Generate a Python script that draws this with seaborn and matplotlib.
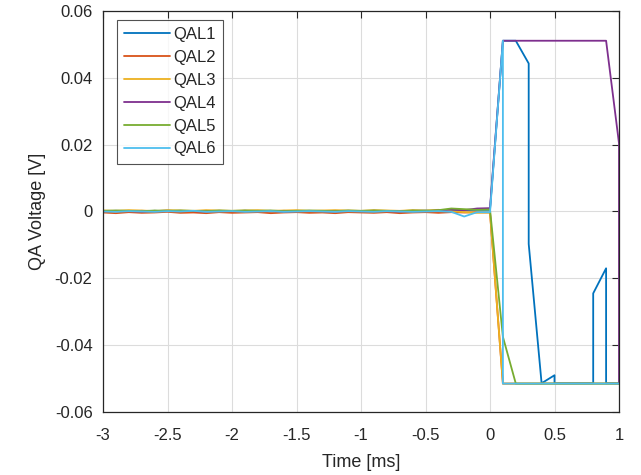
import numpy as np
import pandas as pd
import matplotlib
matplotlib.use("Agg")
import matplotlib.pyplot as plt
import seaborn as sns

series_names = ["QAL1", "QAL2", "QAL3", "QAL4", "QAL5", "QAL6"]
colors = ["#0072BD", "#D95319", "#EDB120", "#7E2F8E", "#77AC30", "#4DBEEE"]

# baseline time samples, -3.0 .. 0.0 ms
t_base = [-3.0, -2.9, -2.8, -2.7, -2.6, -2.5, -2.4, -2.3, -2.2, -2.1,
          -2.0, -1.9, -1.8, -1.7, -1.6, -1.5, -1.4, -1.3, -1.2, -1.1,
          -1.0, -0.9, -0.8, -0.7, -0.6, -0.5, -0.4, -0.3, -0.2, -0.1, 0.0]

qal1_base = [0.0002, 0.0001, 0.0000, 0.0002, 0.0001, 0.0003, 0.0000, 0.0001, 0.0002, 0.0000,
             0.0001, 0.0002, 0.0001, 0.0000, 0.0002, 0.0001, 0.0000, 0.0001, 0.0002, 0.0001,
             0.0000, 0.0002, 0.0001, 0.0000, 0.0002, 0.0003, 0.0001, 0.0002, 0.0004, 0.0005, 0.0005]
qal2_base = [-0.0003, -0.0005, -0.0002, -0.0004, -0.0003, -0.0001, -0.0004, -0.0003, -0.0005, -0.0002,
             -0.0004, -0.0003, -0.0002, -0.0005, -0.0003, -0.0002, -0.0004, -0.0003, -0.0005, -0.0002,
             -0.0003, -0.0004, -0.0002, -0.0005, -0.0003, -0.0002, -0.0004, -0.0002, -0.0003, -0.0002, -0.0003]
qal3_base = [0.0003, 0.0002, 0.0004, 0.0003, 0.0001, 0.0004, 0.0003, 0.0002, 0.0004, 0.0003,
             0.0002, 0.0003, 0.0004, 0.0002, 0.0003, 0.0004, 0.0002, 0.0003, 0.0004, 0.0003,
             0.0002, 0.0004, 0.0003, 0.0002, 0.0004, 0.0003, 0.0005, 0.0001, -0.0002, -0.0004, -0.0003]
qal4_base = [0.0001, 0.0002, 0.0001, 0.0000, 0.0002, 0.0001, 0.0002, 0.0001, 0.0000, 0.0002,
             0.0001, 0.0002, 0.0001, 0.0002, 0.0000, 0.0001, 0.0002, 0.0001, 0.0000, 0.0002,
             0.0001, 0.0002, 0.0001, 0.0000, 0.0002, 0.0001, 0.0003, 0.0006, 0.0004, 0.0009, 0.0010]
qal5_base = [0.0002, 0.0003, 0.0002, 0.0001, 0.0003, 0.0002, 0.0003, 0.0002, 0.0001, 0.0003,
             0.0002, 0.0003, 0.0002, 0.0003, 0.0001, 0.0002, 0.0003, 0.0002, 0.0001, 0.0003,
             0.0002, 0.0003, 0.0002, 0.0001, 0.0003, 0.0002, 0.0004, 0.0009, 0.0007, 0.0005, 0.0006]
qal6_base = [0.0000, -0.0001, 0.0001, 0.0000, -0.0001, 0.0001, 0.0000, 0.0002, -0.0001, 0.0000,
             0.0001, -0.0001, 0.0000, 0.0001, -0.0001, 0.0000, 0.0001, 0.0000, -0.0001, 0.0001,
             0.0000, -0.0001, 0.0001, 0.0000, -0.0001, 0.0000, 0.0001, -0.0001, -0.0015, -0.0002, -0.0002]

# samples after the trigger (repeated times give the vertical steps)
qal1_t_post = [0.1, 0.2, 0.3, 0.3, 0.4, 0.5, 0.5, 0.8, 0.8, 0.9, 0.9, 1.0]
qal1_v_post = [0.0511, 0.0511, 0.0443, -0.0097, -0.0514, -0.0490, -0.0514, -0.0514, -0.0245, -0.0170, -0.0514, -0.0514]
qal2_t_post = [0.1, 1.0]
qal2_v_post = [-0.0515, -0.0515]
qal3_t_post = [0.1, 1.0]
qal3_v_post = [-0.0515, -0.0515]
qal4_t_post = [0.1, 0.9, 1.0, 1.0]
qal4_v_post = [0.0511, 0.0511, 0.0204, -0.0515]
qal5_t_post = [0.1, 0.2, 1.0]
qal5_v_post = [-0.0375, -0.0515, -0.0515]
qal6_t_post = [0.1, 0.1, 1.0]
qal6_v_post = [0.0511, -0.0515, -0.0515]

x_ticks = [-3, -2.5, -2, -1.5, -1, -0.5, 0, 0.5, 1]
x_tick_labels = ["-3", "-2.5", "-2", "-1.5", "-1", "-0.5", "0", "0.5", "1"]
y_ticks = [-0.06, -0.04, -0.02, 0, 0.02, 0.04, 0.06]
y_tick_labels = ["-0.06", "-0.04", "-0.02", "0", "0.02", "0.04", "0.06"]

bases = [qal1_base, qal2_base, qal3_base, qal4_base, qal5_base, qal6_base]
t_posts = [qal1_t_post, qal2_t_post, qal3_t_post, qal4_t_post, qal5_t_post, qal6_t_post]
v_posts = [qal1_v_post, qal2_v_post, qal3_v_post, qal4_v_post, qal5_v_post, qal6_v_post]

frames = []
for name, b, tp, vp in zip(series_names, bases, t_posts, v_posts):
    t = list(t_base) + list(tp)
    v = list(b) + list(vp)
    frames.append(pd.DataFrame({"t": t, "v": v, "series": name,
                                "order": range(len(t))}))
df = pd.concat(frames, ignore_index=True)

sns.set_style("white")
plt.rcParams["font.family"] = ["Liberation Sans", "DejaVu Sans"]

fig = plt.figure(figsize=(6.41, 4.75), dpi=100)
ax = fig.add_axes([103 / 641, 1 - 412 / 475, 516 / 641, 401 / 475])

sns.lineplot(data=df, x="t", y="v", hue="series", hue_order=series_names,
             palette=colors, sort=False, estimator=None, linewidth=1.3, ax=ax)

ax.set_xlim(-3, 1)
ax.set_ylim(-0.06, 0.06)
ax.set_xticks(x_ticks)
ax.set_xticklabels(x_tick_labels)
ax.set_yticks(y_ticks)
ax.set_yticklabels(y_tick_labels)
ax.grid(True, color="#dcdcdc", linewidth=0.8)
ax.set_axisbelow(True)
ax.tick_params(direction="in", length=5, width=0.8, top=True, right=True,
               labelsize=12, colors="#262626")
ax.tick_params(axis="x", pad=11.5)
ax.tick_params(axis="y", pad=7.5)
for s in ax.spines.values():
    s.set_color("#262626")
    s.set_linewidth(0.9)
ax.set_xlabel("Time [ms]", fontsize=13, color="#262626", labelpad=8)
ax.set_ylabel("QA Voltage [V]", fontsize=13, color="#262626", labelpad=6)

leg = ax.legend(loc="upper left", bbox_to_anchor=(0.027, 0.978), borderaxespad=0,
                fontsize=12, frameon=True, fancybox=False, handlelength=2.75,
                handletextpad=0.15, labelspacing=0.47, borderpad=0.45)
leg._legend_box.sep = 0
leg.get_frame().set_edgecolor("#262626")
leg.get_frame().set_linewidth(0.8)
for line in leg.get_lines():
    line.set_linewidth(1.3)
for txt in leg.get_texts():
    txt.set_color("#262626")

fig.savefig("out.png", dpi=100, facecolor="white")
